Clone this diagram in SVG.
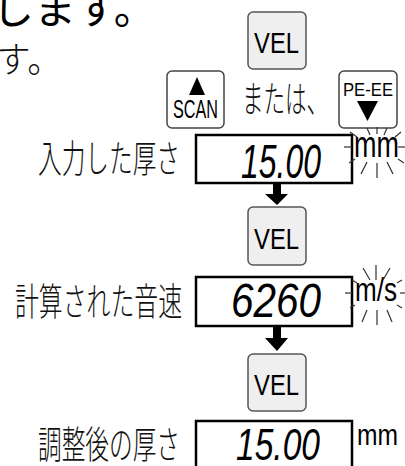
<svg xmlns="http://www.w3.org/2000/svg" width="405" height="466" viewBox="0 0 405 466">
<style>
.jp{font-family:"Noto Sans CJK JP","Noto Sans",sans-serif;font-weight:300;fill:#111}
.btn{fill:#efefef;stroke:#555;stroke-width:1.5}
.btnw{fill:#fff;stroke:#444;stroke-width:1.5}
.bt{font-family:"Liberation Sans",Arial,sans-serif;fill:#000}
.disp{fill:#fff;stroke:#000;stroke-width:2.5}
.dig{font-family:"Liberation Sans",Arial,sans-serif;font-style:italic;fill:#000}
.unit{font-family:"Liberation Sans",Arial,sans-serif;fill:#000}
.ray{stroke:#333;stroke-width:1.2;fill:none}
.arr{fill:#000}
</style>
<rect width="405" height="466" fill="#fff"/>
<g id="heading">
<text x="-8" y="24" font-size="42" style="font-family:'Noto Sans CJK JP','Noto Sans',sans-serif;font-weight:400;fill:#000">します。</text>
<text x="-4" y="73" class="jp" font-size="36" textLength="66" lengthAdjust="spacingAndGlyphs">す。</text>
</g>
<g id="vel1">
<rect class="btn" x="248" y="12" width="58" height="57" rx="5"/>
<text class="bt" x="254" y="53" font-size="29" textLength="45" lengthAdjust="spacingAndGlyphs">VEL</text>
</g>
<g id="scan">
<rect class="btnw" x="167" y="71" width="57" height="57" rx="5"/>
<polygon points="197,77 189,95 205,95" fill="#000"/>
<text class="bt" x="173" y="118" font-size="25" textLength="45" lengthAdjust="spacingAndGlyphs">SCAN</text>
</g>
<g id="or-label">
<text class="jp" x="242" y="113" font-size="37" textLength="86" lengthAdjust="spacingAndGlyphs">または、</text>
</g>
<g id="peee">
<rect class="btnw" x="339" y="71" width="58" height="57" rx="5"/>
<text class="bt" x="343" y="96" font-size="18" textLength="50" lengthAdjust="spacingAndGlyphs">PE-EE</text>
<polygon points="357,101 378,101 367.5,121" fill="#000"/>
</g>
<g id="display1">
<text class="jp" x="38" y="172" font-size="38" textLength="142" lengthAdjust="spacingAndGlyphs">入力した厚さ</text>
<rect class="disp" x="196" y="135" width="156" height="48"/>
<text class="dig" x="241" y="178" font-size="49" textLength="80" lengthAdjust="spacingAndGlyphs">15.00</text>
<text class="unit" x="354" y="157" font-size="36" textLength="45" lengthAdjust="spacingAndGlyphs">mm</text>
<g class="ray">
<line x1="344" y1="147" x2="352" y2="147"/><line x1="398" y1="147" x2="405" y2="147"/>
<line x1="350" y1="132" x2="357" y2="137"/><line x1="367" y1="128" x2="370" y2="135"/>
<line x1="377" y1="127" x2="377" y2="134"/><line x1="387" y1="128" x2="384" y2="135"/>
<line x1="401" y1="132" x2="395" y2="137"/>
<line x1="349" y1="163" x2="355" y2="159"/><line x1="361" y1="174" x2="367" y2="162"/>
<line x1="377" y1="178" x2="377" y2="163"/><line x1="393" y1="174" x2="387" y2="162"/>
<line x1="404" y1="163" x2="398" y2="159"/>
</g>
</g>
<g id="vel2">
<rect class="btn" x="248" y="207" width="58" height="58" rx="5"/>
<text class="bt" x="254" y="249" font-size="29" textLength="45" lengthAdjust="spacingAndGlyphs">VEL</text>
</g>
<g id="display2">
<text class="jp" x="15" y="315" font-size="38" textLength="167" lengthAdjust="spacingAndGlyphs">計算された音速</text>
<rect class="disp" x="196" y="277" width="156" height="49"/>
<text class="dig" x="231" y="317" font-size="49" textLength="90" lengthAdjust="spacingAndGlyphs">6260</text>
<text class="unit" x="355" y="301" font-size="34" textLength="42" lengthAdjust="spacingAndGlyphs">m/s</text>
<g class="ray">
<line x1="345" y1="293" x2="352" y2="293"/><line x1="400" y1="293" x2="405" y2="293"/>
<line x1="352" y1="280" x2="357" y2="283"/><line x1="363" y1="268" x2="370" y2="280"/>
<line x1="376" y1="265" x2="376" y2="280"/><line x1="390" y1="268" x2="383" y2="280"/>
<line x1="402" y1="280" x2="397" y2="283"/>
<line x1="350" y1="308" x2="355" y2="305"/><line x1="362" y1="322" x2="367" y2="310"/>
<line x1="377" y1="325" x2="377" y2="310"/><line x1="392" y1="322" x2="387" y2="310"/>
<line x1="402" y1="308" x2="397" y2="305"/>
</g>
</g>
<g id="vel3">
<rect class="btn" x="248" y="354" width="58" height="57" rx="5"/>
<text class="bt" x="254" y="395" font-size="29" textLength="45" lengthAdjust="spacingAndGlyphs">VEL</text>
</g>
<g id="display3">
<text class="jp" x="38" y="458" font-size="38" textLength="142" lengthAdjust="spacingAndGlyphs">調整後の厚さ</text>
<rect class="disp" x="196" y="421" width="156" height="60"/>
<text class="dig" x="236" y="460" font-size="45" textLength="84" lengthAdjust="spacingAndGlyphs">15.00</text>
<text class="unit" x="357" y="445" font-size="30" textLength="41" lengthAdjust="spacingAndGlyphs">mm</text>
</g>
<g id="connectors">
<path class="arr" d="M273,183 H281 V194 H288 L277,205 L265,194 H273 Z"/>
<path class="arr" d="M273,326 H281 V338 H288 L277,351 L265,338 H273 Z"/>
</g>
</svg>
